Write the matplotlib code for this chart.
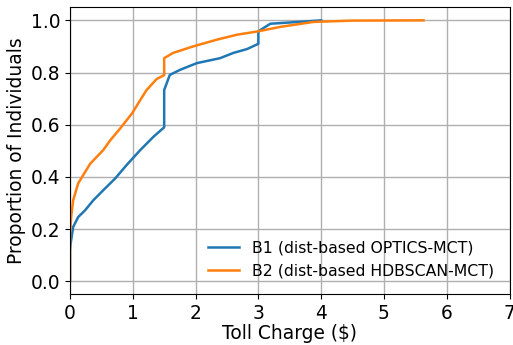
import numpy as np
import matplotlib
matplotlib.use("Agg")
import matplotlib.pyplot as plt

# CDF of toll charges per individual, two baselines
b1_charge = [0.0, 0.0, 0.01, 0.05, 0.13, 0.24, 0.37, 0.53, 0.72, 0.9, 1.12, 1.33,
             1.5, 1.5, 1.59, 1.75, 2.02, 2.39, 2.6, 2.82, 3.0, 3.0, 3.19, 3.77, 4.0]
b1_prop = [0.0, 0.12, 0.144, 0.208, 0.246, 0.272, 0.31, 0.349, 0.394, 0.445, 0.503, 0.554,
           0.59, 0.733, 0.791, 0.81, 0.836, 0.855, 0.875, 0.89, 0.91, 0.958, 0.987, 0.996, 1.0]

b2_charge = [0.0, 0.0, 0.02, 0.05, 0.13, 0.32, 0.53, 0.64, 0.8, 0.99, 1.12, 1.22,
             1.38, 1.5, 1.5, 1.64, 1.96, 2.34, 2.66, 3.0, 3.35, 3.88, 4.5, 5.63]
b2_prop = [0.0, 0.18, 0.25, 0.31, 0.375, 0.45, 0.503, 0.54, 0.586, 0.644, 0.695, 0.733,
           0.775, 0.79, 0.855, 0.875, 0.9, 0.926, 0.945, 0.958, 0.975, 0.994, 0.999, 1.0]

labels = ["B1 (dist-based OPTICS-MCT)", "B2 (dist-based HDBSCAN-MCT)"]

fig = plt.figure(figsize=(5.13, 3.45), dpi=100)
ax = fig.add_axes([70 / 513, 1 - 294.3 / 345, 439.5 / 513, 287 / 345])

ax.plot(b1_charge, b1_prop, color="#1f77b4", lw=1.8, label=labels[0])
ax.plot(b2_charge, b2_prop, color="#ff7f0e", lw=1.8, label=labels[1])

ax.set_xlim(0, 7)
ax.set_ylim(-0.05, 1.05)
ax.set_xticks(range(8))
ax.set_yticks(np.arange(0, 1.01, 0.2))
ax.tick_params(labelsize=13.4)
ax.set_xlabel("Toll Charge ($)", fontsize=13.4, labelpad=1)
ax.set_ylabel("Proportion of Individuals", fontsize=13.4, labelpad=3)
ax.grid(True, color="#b0b0b0", lw=1)
ax.legend(loc="lower right", frameon=False, fontsize=11.3, borderaxespad=0.6)

fig.savefig("out.png", dpi=100)
